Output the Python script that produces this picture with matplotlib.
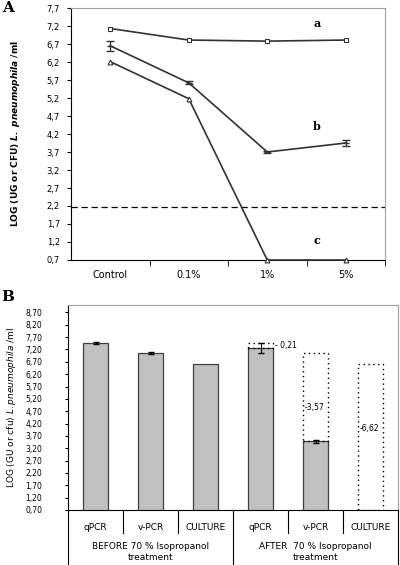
import matplotlib
matplotlib.use("Agg")
import matplotlib.pyplot as plt
import matplotlib.transforms as mtransforms
import numpy as np

# panel A data
conc = ["Control", "0.1%", "1%", "5%"]
line_a = [7.13, 6.81, 6.78, 6.81]
line_b = [6.65, 5.62, 3.70, 3.95]
line_b_err = [0.14, 0.04, 0.03, 0.07]
line_c = [6.21, 5.18, 0.70, 0.70]
limit = 2.18

# panel B data
methods = ["qPCR", "v-PCR", "CULTURE"]
before = [7.47, 7.05, 6.62]
before_err = [0.03, 0.03, 0.0]
after = [7.26, 3.48, 0.0]
after_err = [0.21, 0.05, 0.0]
diff_labels = ["- 0,21", "-3,57", "-6,62"]
groups = ["BEFORE 70 % Isopropanol\ntreatment", "AFTER  70 % Isopropanol\ntreatment"]

W, H = 400, 565
fig = plt.figure(figsize=(W / 100, H / 100), dpi=100)

def box(l, t, r, b):
    return [l / W, 1 - b / H, (r - l) / W, (b - t) / H]

dark = "#333333"
gray = "#a0a0a0"

# ---------- panel A ----------
ax = fig.add_axes(box(71, 8, 385, 260))
x = np.arange(len(conc))
ax.plot(x, line_a, color=dark, lw=1.2, marker="s", ms=3.5, mfc="white", mec=dark, mew=0.8)
ax.errorbar(x, line_b, yerr=line_b_err, color=dark, lw=1.2, capsize=3, elinewidth=1,
            marker="_", ms=4)
ax.plot(x, line_c, color=dark, lw=1.2, marker="^", ms=3.5, mfc="white", mec=dark, mew=0.8,
        clip_on=False, zorder=3)
ax.axhline(limit, color="black", lw=0.9, ls=(0, (5, 3)))

ax.set_xlim(-0.5, 3.5)
ax.set_ylim(0.7, 7.7)
ax.set_yticks(np.arange(0.7, 7.71, 0.5))
ax.set_yticklabels([f"{v:.1f}".replace(".", ",") for v in np.arange(0.7, 7.71, 0.5)],
                   fontsize=6)
ax.set_xticks(x)
ax.set_xticklabels(conc, fontsize=7)
ax.tick_params(axis="x", length=0, pad=7)
ax.set_xticks([0.5, 1.5, 2.5, 3.5], minor=True)
ax.tick_params(axis="x", which="minor", length=4, direction="out", color="black")
ax.tick_params(axis="y", length=3, direction="out", pad=5)
for s in ["left", "bottom"]:
    ax.spines[s].set_color("black")
for s in ["top", "right"]:
    ax.spines[s].set_color(gray)
ax.set_ylabel(r"LOG (UG or CFU) $\mathbfit{L.\ pneumophila}$ /ml", fontsize=6.5,
              fontweight="bold", labelpad=18)

for lab, xv, yv in [("a", 2.63, 7.27), ("b", 2.63, 4.4), ("c", 2.63, 1.25)]:
    ax.text(xv, yv, lab, fontsize=8, fontweight="bold", family="DejaVu Serif",
            ha="center", va="center")

fig.text(8 / W, 1 - 8 / H, "A", fontsize=11, fontweight="bold", family="DejaVu Serif",
         va="center", ha="center")

# ---------- panel B ----------
bx = fig.add_axes(box(68, 305, 398, 510))
pos = np.arange(6)
vals = before + after
errs = before_err + after_err
bw = 0.44
bx.bar(pos[:3], before, width=bw, color="#c0c0c0", edgecolor="#404040", lw=0.9)
bx.bar(pos[3:5], after[:2], width=bw, color="#c0c0c0", edgecolor="#404040", lw=0.9)
for p, v, e in zip(pos, vals, errs):
    if e > 0:
        bx.errorbar(p, v, yerr=e, fmt="none", ecolor="black", elinewidth=0.8, capsize=2.5)

# dotted "loss" boxes after treatment
for i in range(3):
    xc = pos[3 + i]
    top = before[i]
    low = max(after[i], 0.7)
    bx.bar(xc, top - low, bottom=low, width=bw, facecolor="none", edgecolor="black",
           lw=1.0, ls=(0, (1, 2.5)), zorder=3)

bx.text(pos[3] + bw / 2 + 0.04, before[0] - 0.12, diff_labels[0], fontsize=5.5,
        ha="left", va="center")
bx.text(pos[4] - bw / 2 + 0.02, 4.86, diff_labels[1], fontsize=5.5, ha="left", va="center")
bx.text(pos[5] - bw / 2 + 0.02, 4.0, diff_labels[2], fontsize=5.5, ha="left", va="center")

bx.set_xlim(-0.5, 5.5)
bx.set_ylim(0.7, 9.0)
yt = np.arange(0.7, 8.71, 0.5)
bx.set_yticks(yt)
bx.set_yticklabels([f"{v:.2f}".replace(".", ",") for v in yt], fontsize=5.5)
bx.tick_params(axis="y", length=2.5, direction="out", pad=16)
bx.set_xticks([])
for s in ["left", "bottom"]:
    bx.spines[s].set_color("black")
for s in ["top", "right"]:
    bx.spines[s].set_color(gray)
bx.set_ylabel(r"LOG (GU or cfu) $\mathit{L. pneumophila}$ /ml", fontsize=6.5, labelpad=5)

tr = mtransforms.blended_transform_factory(bx.transData, bx.transAxes)
for i, p in enumerate(pos):
    bx.text(p, -0.083, methods[i % 3], transform=tr, fontsize=6.5, ha="center", va="center")
for xs in [0.5, 1.5, 3.5, 4.5]:
    bx.plot([xs, xs], [0, -0.11], transform=tr, color="black", lw=0.8, clip_on=False)
for xs in [-0.5, 2.5, 5.5]:
    bx.plot([xs, xs], [0, -0.3], transform=tr, color="black", lw=0.8, clip_on=False)
for g, xc in zip(groups, [1.0, 4.0]):
    bx.text(xc, -0.205, g, transform=tr, fontsize=6.5, ha="center", va="center",
            linespacing=1.3)

fig.text(8 / W, 1 - 297 / H, "B", fontsize=11, fontweight="bold", family="DejaVu Serif",
         va="center", ha="center")

fig.savefig("out.png", dpi=100)
